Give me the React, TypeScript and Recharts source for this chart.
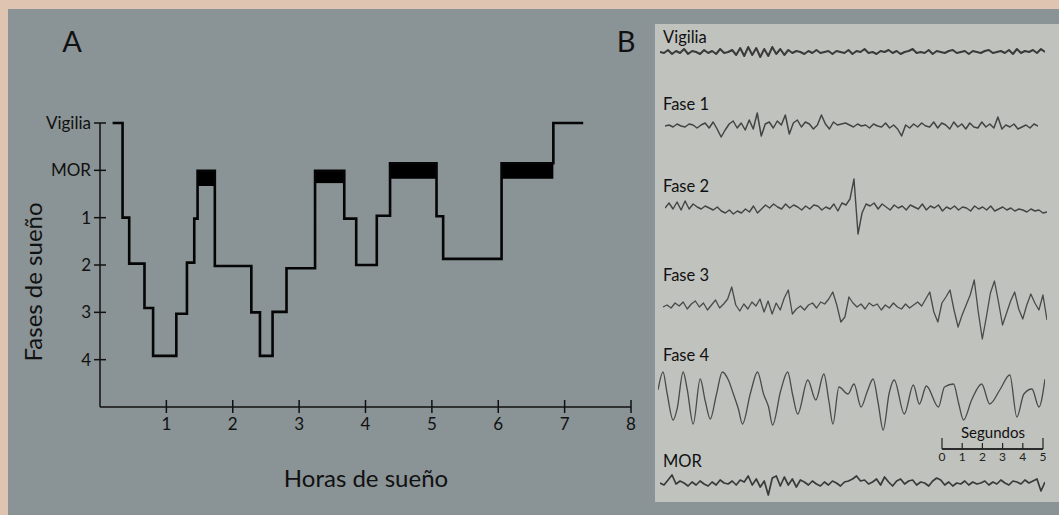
import React from 'react';
import { ComposedChart, LineChart, Line, XAxis, YAxis, ReferenceArea } from 'recharts';

// Panel A: hipnograma. Nivel 0 = Vigilia, 1 = MOR, 2..5 = fases 1..4 (eje invertido)
const horas = [0.19, 0.34, 0.44, 0.67, 0.8, 1.15, 1.31, 1.42, 1.47, 1.73, 2.28, 2.41, 2.6, 2.81, 3.24, 3.68, 3.86, 4.17, 4.37, 5.07, 5.17, 6.05, 6.83, 7.28];
const niveles = [0, 2.0, 2.97, 3.91, 4.92, 4.03, 2.95, 2.02, 1.01, 3.02, 4.0, 4.92, 3.99, 3.07, 1.01, 2.02, 3.0, 1.96, 0.85, 1.97, 2.87, 0.85, 0, 0];

// bloques MOR (relleno negro)
const morInicio = [1.47, 3.24, 4.37, 6.05];
const morFin = [1.73, 3.68, 5.07, 6.83];
const morArriba = [1.01, 1.01, 0.85, 0.85];
const morAbajo = [1.33, 1.27, 1.18, 1.18];

const ticksHoras = [1, 2, 3, 4, 5, 6, 7, 8];
const ticksFases = [0, 1, 2, 3, 4, 5];
const etiquetasFases = ['Vigilia', 'MOR', '1', '2', '3', '4'];

// Panel B: trazos de EEG (desplazamiento hacia arriba, en px)
const eegVigilia = [0, -1, 2, -2, 1, -1, 3, -2, 1, 0, -2, 2, -1, 1, -2, 3, -1, 0, 2,
  -3, 4, -4, 5, -3, 4, -5, 3, -4, 5, -2, 3, -3, 2,
  -1, 1, 0, -2, 1, -1, 2, -1, 0, 1, -2, 1, 0, -1, 2, -2, 1, 0, 3, -1, 0, -2, 1, 0, 2, -1, 1, -2, 0, 1,
  3, -1, 0, -1, 2, -2, 1, 0, -1, 1, 2, -1, 0, 1, -2, 1, 0, -1, 1, 2, -1, 0, 1, -1, 2, -2, 3, -1, 1, 0, 2, -1, 3, 0];

const eegFase1 = [0, 1, -1, 2, 0, -1, 2, 1, -2, 1,
  3, -2, 4, -3, -11, -4, 2, 5, -2, 3,
  -4, 6, -3, 13, -10, 2, 4, -2, 5, 1,
  11, -8, 3, 6, -1, 4, 2, -3, 1, 11,
  2, -3, 4, 1, 2, 3, 1, -1, 2, 0,
  1, -2, 2, 0, -1, 3, -2, 1, -3, -10,
  1, -2, 2, -1, 3, 0, -1, 4, -2, 3,
  1, -3, 4, -1, 2, -3, 3, -1, -2, 4,
  -1, 2, -2, 9, -3, 1, -1, 2, -3, -1,
  1, -2, 2, 0];

const eegFase2 = [-1, 4, -2, 5, -3, 6, -2, 3, 0, -2,
  1, -1, -3, 0, -4, -6, -3, -7, -4, -6,
  -2, -5, 1, -6, -2, 2, -1, 3, 0, -2,
  3, -1, 2, 0, -3, 1, -2, 2, 1, -3,
  0, -2, 3, -4, 4, 2, 8, 28, -27, -6,
  3, 1, 4, -2, 3, 0, -3, 2, -1, 1,
  -3, 2, 0, -2, 3, -3, 1, -1, 2, -4,
  0, -2, 1, -3, 0, -1, -4, 1, -2, 0,
  -3, 1, -4, -2, 0, -3, -1, -4, -2, -3,
  -5, -2, -4, -3, -6, -5];

const eegFase3 = [0, 2, -1, 4, 1, 5, -2, 3, 6, 0,
  4, -3, 2, 7, -1, 3, 8, 20, 2, -4,
  3, -2, 5, 1, 8, -5, 6, -7, 4, -3,
  9, 17, -7, -2, 1, -3, 2, 4, -1, 5,
  3, 8, 15, 2, -15, -10, 10, 4, 0, 3,
  -2, 4, 1, 3, -3, 2, -1, 4, 0, -2,
  3, -1, 2, 5, 1, 8, 15, -5, -15, 4,
  10, 17, -3, -20, -8, 2, 12, 27, -5, -32,
  -10, 14, 26, 5, -18, -6, 6, 15, -2, -12,
  2, 13, 4, -3, 12, -13];

// [posición, desplazamiento]
const eegFase4: [number, number][] = [[0, 7], [5, 25], [9, 4], [15, -23], [19, -12], [25, 25], [29, 8], [35, -27], [42, 18], [47, -4], [52, -22], [58, 2], [64, 25], [70, 17], [75, 3],
  [80, -12], [84, -27], [92, 4], [99, 25], [105, 3], [110, -10], [114, -28], [122, 6], [129, 25], [134, 2], [139, -17], [149, 17], [157, -3], [165, 23], [170, -4], [174, -27],
  [180, 10], [189, 3], [195, 13], [202, -10], [208, 5], [214, 18], [219, -6], [224, -33], [230, 4], [235, 17], [245, -17], [254, 12], [260, -7],
  [267, 11], [279, -10], [285, 10], [294, 13], [299, -6], [304, -23], [312, -3], [322, 13], [330, -7], [340, 7], [350, 22],
  [357, -20], [364, 3], [372, 8], [379, -10], [385, 18]];

const eegMor = [0, -2, 3, 8, -1, 2, 0, -3, 1, -2,
  2, -1, -3, 1, -2, 3, 0, -1, 2, -2,
  3, 1, 7, -2, 4, -4, 2, -12, 5, 7,
  -3, 6, -2, 4, -4, 3, 1, -2, 2, -1,
  -3, 1, -2, 2, 0, -3, 1, 2, 4, 7,
  2, 3, -1, 1, 4, -2, 6, 1, -3, 2,
  4, -1, 2, 3, -2, 1, 0, -3, 2, 5,
  3, -2, 1, -3, 0, -1, 2, -2, 1, -1,
  0, 2, -2, 1, -1, 3, 0, -2, 2, 1,
  -1, 3, 0, 2, 4, -8, 1];

const segundos = [0, 1, 2, 3, 4, 5];

const FONT = 'Lato, "Open Sans", sans-serif';
const INK = '#111';

const TickFase = (props: any) => {
  const { x, y, payload } = props;
  return (
    <g>
      <line x1={x - 6} x2={x + 6} y1={y} y2={y} stroke={INK} strokeWidth={1.5} />
      <text x={x - 9} y={y + 6} textAnchor="end" fontSize={17} fill={INK} fontFamily={FONT}>
        {etiquetasFases[payload.value]}
      </text>
    </g>
  );
};

const TickHora = (props: any) => {
  const { x, y, payload } = props;
  return (
    <g>
      <line x1={x} x2={x} y1={y - 7} y2={y + 6} stroke={INK} strokeWidth={1.5} />
      <text x={x} y={y + 23} textAnchor="middle" fontSize={17} fill={INK} fontFamily={FONT}>
        {payload.value}
      </text>
    </g>
  );
};

const TickSegundo = (props: any) => {
  const { x, y, payload } = props;
  const largo = payload.value === 0 || payload.value === 5 ? 11 : 6;
  return (
    <g>
      <line x1={x} x2={x} y1={y} y2={y - largo} stroke="#222" strokeWidth={1.2} />
      <text x={x} y={y + 12} textAnchor="middle" fontSize={12} fill="#222" fontFamily={FONT}>
        {payload.value}
      </text>
    </g>
  );
};

type TrazaProps = {
  datos: { t: number; v: number }[];
  left: number;
  centro: number;
  width: number;
  grosor?: number;
  color?: string;
  suave?: boolean;
};

const Traza = ({ datos, left, centro, width, grosor = 1.4, color = '#444', suave = false }: TrazaProps) => {
  const alto = 80;
  return (
    <div style={{ position: 'absolute', left, top: centro - alto / 2 }}>
      <LineChart width={width} height={alto} data={datos} margin={{ top: 0, right: 0, bottom: 0, left: 0 }}>
        <XAxis dataKey="t" type="number" domain={['dataMin', 'dataMax']} hide />
        <YAxis type="number" domain={[-alto / 2, alto / 2]} hide />
        <Line
          type={suave ? 'monotone' : 'linear'}
          dataKey="v"
          stroke={color}
          strokeWidth={grosor}
          strokeLinejoin="round"
          dot={false}
          isAnimationActive={false}
        />
      </LineChart>
    </div>
  );
};

const porIndice = (vals: number[]) => vals.map((v, i) => ({ t: i, v }));

export default function App() {
  const hipnograma = horas.map((h, i) => ({ h, nivel: niveles[i] }));
  const escala = segundos.map((s) => ({ s, y: 0 }));

  return (
    <div style={{ position: 'absolute', left: 0, top: 0, width: 1059, height: 515, background: '#dfc4b1', overflow: 'hidden', fontFamily: FONT }}>
      <div style={{ position: 'absolute', left: 8, top: 9, right: 0, bottom: 0, background: '#8a9395' }} />
      <div style={{ position: 'absolute', left: 655, top: 24, right: 0, height: 478, background: '#c0c2be' }} />

      {/* Panel A */}
      <div style={{ position: 'absolute', left: 0, top: 0 }}>
        <ComposedChart width={660} height={515} data={hipnograma} margin={{ top: 123, right: 29, bottom: 78, left: 0 }}>
          <XAxis
            dataKey="h"
            type="number"
            domain={[0, 8]}
            ticks={ticksHoras}
            interval={0}
            height={30}
            tickSize={0}
            tickMargin={0}
            tickLine={false}
            tick={TickHora}
            axisLine={{ stroke: INK, strokeWidth: 1.5 }}
          />
          <YAxis
            type="number"
            domain={[0, 6]}
            reversed
            ticks={ticksFases}
            interval={0}
            width={100}
            tickSize={0}
            tickMargin={0}
            tickLine={false}
            tick={TickFase}
            axisLine={{ stroke: INK, strokeWidth: 1.5 }}
          />
          {morInicio.map((x1, i) => (
            <ReferenceArea
              key={i}
              x1={x1}
              x2={morFin[i]}
              y1={morArriba[i]}
              y2={morAbajo[i]}
              fill="#000"
              fillOpacity={1}
              stroke="none"
              ifOverflow="visible"
            />
          ))}
          <Line
            type="stepAfter"
            dataKey="nivel"
            stroke="#050505"
            strokeWidth={2.6}
            strokeLinejoin="miter"
            dot={false}
            isAnimationActive={false}
          />
        </ComposedChart>
      </div>

      {/* Panel B */}
      <Traza datos={porIndice(eegVigilia)} left={660} centro={52} width={385} grosor={2} color="#3a3a3a" />
      <Traza datos={porIndice(eegFase1)} left={665} centro={126} width={373} grosor={1.5} />
      <Traza datos={porIndice(eegFase2)} left={665} centro={207} width={382} grosor={1.4} />
      <Traza datos={porIndice(eegFase3)} left={663} centro={307} width={384} grosor={1.3} color="#4a4a4a" />
      <Traza datos={eegFase4.map(([t, v]) => ({ t, v }))} left={658} centro={397} width={387} grosor={1.3} color="#4a4a4a" suave />
      <Traza datos={porIndice(eegMor)} left={660} centro={483} width={385} grosor={1.7} color="#3a3a3a" />

      {/* barra de escala */}
      <div style={{ position: 'absolute', left: 922, top: 420 }}>
        <LineChart width={141} height={50} data={escala} margin={{ top: 0, right: 20, bottom: 0, left: 20 }}>
          <XAxis
            dataKey="s"
            type="number"
            domain={[0, 5]}
            ticks={segundos}
            interval={0}
            height={21}
            tickSize={0}
            tickMargin={0}
            tickLine={false}
            tick={TickSegundo}
            axisLine={{ stroke: '#222', strokeWidth: 1.3 }}
          />
          <YAxis type="number" domain={[0, 1]} hide />
          <Line dataKey="y" stroke="#222" strokeWidth={1.3} dot={false} isAnimationActive={false} />
        </LineChart>
      </div>

      {/* textos */}
      <svg width={1059} height={515} style={{ position: 'absolute', left: 0, top: 0, pointerEvents: 'none' }}>
        <g fontFamily={FONT} fill={INK}>
          <text x={72} y={52} fontSize={29} textAnchor="middle">A</text>
          <text x={626} y={52} fontSize={29} textAnchor="middle">B</text>
          <text x={366} y={487} fontSize={24} textAnchor="middle">Horas de sueño</text>
          <text x={42} y={282} fontSize={24} textAnchor="middle" transform="rotate(-90 42 282)">Fases de sueño</text>
          <text x={663} y={42.5} fontSize={16.5}>Vigilia</text>
          <text x={663} y={109.5} fontSize={16.5}>Fase 1</text>
          <text x={663} y={192} fontSize={16.5}>Fase 2</text>
          <text x={663} y={281} fontSize={16.5}>Fase 3</text>
          <text x={663} y={360.5} fontSize={16.5}>Fase 4</text>
          <text x={663} y={467} fontSize={16.5}>MOR</text>
          <text x={993} y={438} fontSize={15} textAnchor="middle">Segundos</text>
        </g>
      </svg>
    </div>
  );
}
